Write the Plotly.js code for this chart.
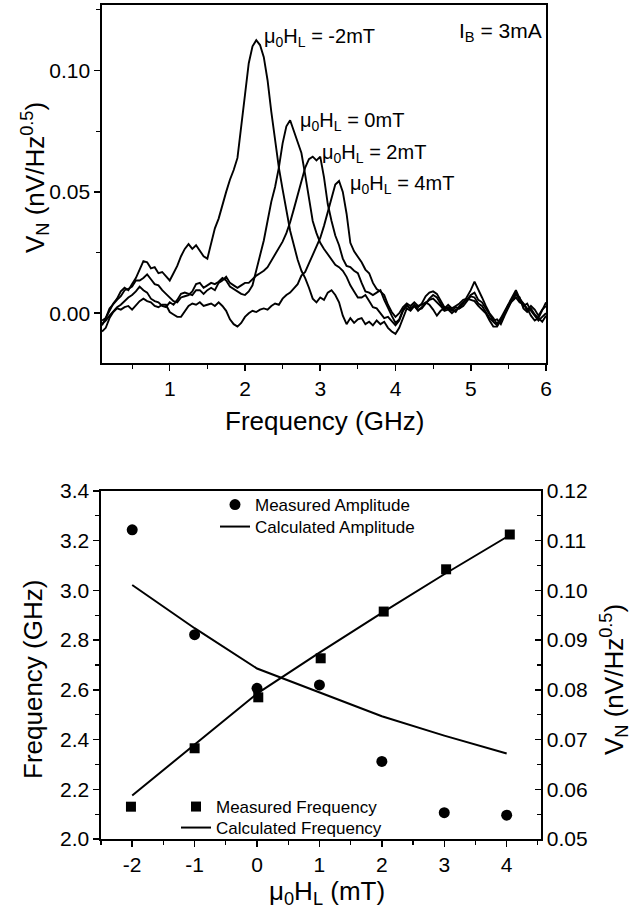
<!DOCTYPE html>
<html>
<head>
<meta charset="utf-8">
<script src="https://cdn.plot.ly/plotly-3.0.1.min.js"></script>
<style>
  html, body { margin: 0; padding: 0; background: #fff; }
  #chart { width: 636px; height: 916px; }
</style>
</head>
<body>
<div id="chart"></div>
<script>
// ---------- Top panel: noise spectra ----------
const freqGHz = [
  0.10,0.15,0.20,0.25,0.30,0.35,0.40,0.45,0.50,0.55,
  0.60,0.65,0.70,0.75,0.80,0.85,0.90,0.95,1.00,1.05,
  1.10,1.15,1.20,1.25,1.30,1.35,1.40,1.45,1.50,1.55,
  1.60,1.65,1.70,1.75,1.80,1.85,1.90,1.95,2.00,2.05,
  2.10,2.15,2.20,2.25,2.30,2.35,2.40,2.45,2.50,2.55,
  2.60,2.65,2.70,2.75,2.80,2.85,2.90,2.95,3.00,3.05,
  3.10,3.15,3.20,3.25,3.30,3.35,3.40,3.45,3.50,3.55,
  3.60,3.65,3.70,3.75,3.80,3.85,3.90,3.95,4.00,4.05,
  4.10,4.15,4.20,4.25,4.30,4.35,4.40,4.45,4.50,4.55,
  4.60,4.65,4.70,4.75,4.80,4.85,4.90,4.95,5.00,5.05,
  5.10,5.15,5.20,5.25,5.30,5.35,5.40,5.45,5.50,5.55,
  5.60,5.65,5.70,5.75,5.80,5.85,5.90,5.95,6.00
];
// mu0HL = -2 mT
const vnMinus2 = [
  -0.005,-0.002,0.001,0.004,0.006,0.009,0.0105,0.0095,0.012,0.0145,
  0.018,0.0215,0.021,0.0185,0.019,0.0165,0.017,0.015,0.0135,0.0165,
  0.0195,0.0235,0.0265,0.0285,0.0265,0.028,0.026,0.0235,0.0225,0.029,
  0.035,0.039,0.045,0.050,0.055,0.059,0.064,0.076,0.090,0.103,
  0.110,0.1125,0.1105,0.1055,0.096,0.083,0.071,0.060,0.051,0.042,
  0.034,0.028,0.022,0.0175,0.0145,0.0105,0.006,0.0045,0.0065,0.0055,
  0.0085,0.0095,0.0075,0.0045,-0.001,-0.0045,-0.002,-0.004,-0.0025,-0.002,
  -0.0045,-0.0035,-0.005,-0.003,-0.0045,-0.0035,-0.006,-0.0075,-0.0085,-0.006,
  -0.002,0.002,0.001,0.003,0.0015,0.002,0.004,0.0055,0.006,0.0045,
  0.003,0.001,0.0015,0.000,0.0015,0.002,0.003,0.005,0.007,0.0065,
  0.004,0.003,0.0005,-0.002,-0.0035,-0.005,-0.003,0.000,0.003,0.006,
  0.0085,0.005,0.003,0.004,0.001,-0.001,-0.003,-0.0015,0.000
];
// mu0HL = 0 mT
const vnZero = [
  -0.003,-0.002,0.002,0.004,0.0055,0.007,0.0095,0.010,0.011,0.0135,
  0.0135,0.0145,0.016,0.014,0.012,0.0115,0.0095,0.008,0.0065,0.005,
  0.0045,0.0065,0.007,0.0075,0.009,0.012,0.0125,0.0105,0.0115,0.0125,
  0.012,0.013,0.0145,0.0135,0.011,0.010,0.009,0.008,0.0075,0.009,
  0.0115,0.018,0.024,0.030,0.038,0.046,0.052,0.060,0.070,0.077,
  0.0795,0.075,0.071,0.066,0.057,0.047,0.038,0.033,0.029,0.0265,
  0.0245,0.022,0.020,0.019,0.0175,0.015,0.0115,0.009,0.0065,0.0065,
  0.0075,0.005,0.0025,0.002,0.000,-0.002,-0.0015,-0.0035,-0.005,-0.003,
  0.001,0.003,0.002,0.0035,0.0025,0.004,0.007,0.0085,0.009,0.008,
  0.0055,0.0025,0.002,0.001,0.0025,0.002,0.004,0.0065,0.0095,0.013,
  0.010,0.0065,0.003,0.000,-0.002,-0.0045,-0.002,0.001,0.0035,0.0065,
  0.0095,0.006,0.004,0.002,-0.001,-0.003,-0.002,0.001,0.0045
];
// mu0HL = 2 mT
const vnPlus2 = [
  -0.0045,-0.003,-0.001,0.001,0.0025,0.0035,0.005,0.0065,0.0075,0.009,
  0.011,0.0095,0.0085,0.006,0.005,0.0045,0.003,0.0025,0.0045,0.0035,
  0.0055,0.008,0.0085,0.008,0.0075,0.0095,0.0095,0.008,0.0095,0.0105,
  0.0095,0.0125,0.0135,0.015,0.0125,0.0115,0.0105,0.0115,0.0125,0.0125,
  0.014,0.0155,0.0165,0.0175,0.019,0.0215,0.024,0.027,0.0295,0.033,
  0.0375,0.043,0.049,0.055,0.060,0.0635,0.0645,0.063,0.0645,0.056,
  0.045,0.038,0.032,0.028,0.0225,0.0195,0.019,0.0175,0.0165,0.0125,
  0.009,0.0085,0.0075,0.0085,0.0095,0.0055,0.002,-0.001,-0.004,-0.0025,
  0.0015,0.0035,0.0015,0.003,0.001,0.0025,0.004,0.006,0.0075,0.0065,
  0.004,0.0015,0.0025,0.0015,0.0005,0.003,0.0045,0.0055,0.0075,0.0085,
  0.0055,0.0045,0.002,-0.001,-0.003,-0.0025,-0.0045,-0.001,0.002,0.0055,
  0.0075,0.0065,0.002,0.0005,0.002,-0.0005,-0.002,-0.0035,-0.001
];
// mu0HL = 4 mT
const vnPlus4 = [
  -0.0075,-0.006,-0.002,0.0005,0.002,0.0015,0.0025,0.003,0.0015,0.0035,
  0.005,0.006,0.005,0.0045,0.003,0.0025,0.0035,0.0035,0.0005,-0.0005,
  -0.0015,-0.0015,0.0005,0.003,0.004,0.0035,0.0045,0.003,0.0035,0.004,
  0.003,0.0045,0.003,0.001,-0.0025,-0.0045,-0.0055,-0.004,-0.0015,0.000,
  0.001,0.0005,0.0015,0.002,0.0015,0.003,0.004,0.0035,0.006,0.0075,
  0.0085,0.0105,0.012,0.0155,0.017,0.0205,0.024,0.027,0.031,0.036,
  0.042,0.048,0.053,0.0545,0.050,0.041,0.029,0.0255,0.0235,0.021,
  0.018,0.0165,0.0125,0.010,0.009,0.0075,0.0035,0.0005,-0.0015,0.000,
  0.0025,0.004,0.003,0.0045,0.003,0.0035,0.0045,0.0035,0.0015,-0.001,
  0.001,0.002,0.0035,0.002,0.003,0.004,0.0055,0.006,0.0055,0.005,
  0.003,0.0015,0.000,-0.003,-0.0055,-0.0055,-0.003,0.000,0.0035,0.005,
  0.0065,0.0045,0.004,0.001,0.003,0.0015,-0.001,0.0015,0.003
];
const curveLabels = [
  "μ<sub>0</sub>H<sub>L</sub> = -2mT",
  "μ<sub>0</sub>H<sub>L</sub> = 0mT",
  "μ<sub>0</sub>H<sub>L</sub> = 2mT",
  "μ<sub>0</sub>H<sub>L</sub> = 4mT"
];
const biasLabel = "I<sub>B</sub> = 3mA";

// ---------- Bottom panel: field dependence ----------
const fieldAmp = [-2, -1, 0, 1, 2, 3, 4];
const measAmplitude = [0.1122, 0.0911, 0.0803, 0.0810, 0.0656, 0.0553, 0.0548];
const calcAmplitude = [0.1011, 0.0924, 0.0843, 0.0795, 0.0747, 0.0708, 0.0672];
const fieldFreq = [-2.02, -1.0, 0.02, 1.02, 2.03, 3.03, 4.05];
const measFrequency = [2.13, 2.365, 2.57, 2.727, 2.915, 3.085, 3.225];
const fieldCalc = [-2, -1, 0, 1, 2, 3, 4];
const calcFrequency = [2.175, 2.38, 2.585, 2.75, 2.91, 3.065, 3.215];
const fieldTicks = [-2, -1, 0, 1, 2, 3, 4];
const fieldTickText = ["-2", "-1", "0", "1", "2", "3", "4"];

const FONT = '"Liberation Sans", Arial, Helvetica, sans-serif';
const W = 636, H = 916;
const px = v => v / W;
const py = v => 1 - v / H;

const lineStyle = {color: 'black', width: 1.9};
const traces = [
  {x: freqGHz, y: vnMinus2, xaxis: 'x', yaxis: 'y', mode: 'lines', line: lineStyle, showlegend: false, name: '-2mT'},
  {x: freqGHz, y: vnZero,   xaxis: 'x', yaxis: 'y', mode: 'lines', line: lineStyle, showlegend: false, name: '0mT'},
  {x: freqGHz, y: vnPlus2,  xaxis: 'x', yaxis: 'y', mode: 'lines', line: lineStyle, showlegend: false, name: '2mT'},
  {x: freqGHz, y: vnPlus4,  xaxis: 'x', yaxis: 'y', mode: 'lines', line: lineStyle, showlegend: false, name: '4mT'},

  {x: fieldAmp, y: measAmplitude, xaxis: 'x2', yaxis: 'y3', mode: 'markers', name: 'Measured Amplitude',
   marker: {symbol: 'circle', size: 11, color: 'black'}, legend: 'legend'},
  {x: fieldCalc, y: calcAmplitude, xaxis: 'x2', yaxis: 'y3', mode: 'lines', name: 'Calculated Amplitude',
   line: {color: 'black', width: 2}, legend: 'legend2'},
  {x: fieldFreq, y: measFrequency, xaxis: 'x2', yaxis: 'y2', mode: 'markers', name: 'Measured Frequency',
   marker: {symbol: 'square', size: 10, color: 'black'}, legend: 'legend3'},
  {x: fieldCalc, y: calcFrequency, xaxis: 'x2', yaxis: 'y2', mode: 'lines', name: 'Calculated Frequency',
   line: {color: 'black', width: 2}, legend: 'legend4'}
];

const axBase = {
  showline: true, linecolor: 'black', linewidth: 1.6,
  ticks: 'outside', ticklen: 6, tickwidth: 1.5, tickcolor: 'black',
  showgrid: false, zeroline: false,
  tickfont: {family: FONT, size: 21, color: 'black'}
};
const minorBase = {ticks: 'outside', ticklen: 4, tickwidth: 1.2, tickcolor: 'black', showgrid: false};

function legendAt(xPx, yPx) {
  return {
    x: px(xPx), xanchor: 'left', y: py(yPx), yanchor: 'middle',
    bgcolor: 'rgba(0,0,0,0)', borderwidth: 0,
    font: {family: FONT, size: 17, color: 'black'}, tracegroupgap: 0
  };
}

const layout = {
  width: W, height: H,
  margin: {l: 0, r: 0, t: 0, b: 0},
  paper_bgcolor: 'white', plot_bgcolor: 'white',
  font: {family: FONT, size: 20, color: 'black'},
  showlegend: true,
  xaxis: Object.assign({}, axBase, {
    domain: [px(102), px(546)], anchor: 'y', range: [0.1, 6.0],
    tickmode: 'linear', tick0: 0, dtick: 1, mirror: true,
    minor: Object.assign({}, minorBase, {tickmode: 'linear', tick0: 0, dtick: 0.5})
  }),
  yaxis: Object.assign({}, axBase, {
    domain: [py(363), py(5)], anchor: 'x', range: [-0.0205, 0.127],
    tickmode: 'linear', tick0: 0, dtick: 0.05, tickformat: '.2f', mirror: true,
    minor: Object.assign({}, minorBase, {tickmode: 'linear', tick0: 0, dtick: 0.025})
  }),
  xaxis2: Object.assign({}, axBase, {
    domain: [px(101), px(541)], anchor: 'y2', range: [-2.5, 4.55],
    tickmode: 'array', tickvals: fieldTicks, ticktext: fieldTickText, mirror: true,
    minor: Object.assign({}, minorBase, {tickmode: 'linear', tick0: 0, dtick: 0.5})
  }),
  yaxis2: Object.assign({}, axBase, {
    domain: [py(839), py(491)], anchor: 'x2', range: [2.0, 3.4],
    tickmode: 'linear', tick0: 2, dtick: 0.2, tickformat: '.1f',
    minor: Object.assign({}, minorBase, {tickmode: 'linear', tick0: 2, dtick: 0.1})
  }),
  yaxis3: Object.assign({}, axBase, {
    overlaying: 'y2', side: 'right', anchor: 'x2', range: [0.05, 0.12],
    tickmode: 'linear', tick0: 0.05, dtick: 0.01, tickformat: '.2f', ticks: 'inside',
    minor: Object.assign({}, minorBase, {ticks: 'inside', tickmode: 'linear', tick0: 0.05, dtick: 0.005})
  }),
  legend: legendAt(215, 505),
  legend2: legendAt(215, 527),
  legend3: legendAt(176, 807),
  legend4: legendAt(176, 828),
  annotations: [
    {xref: 'x', yref: 'y', x: 2.22, y: 0.1135, text: curveLabels[0], showarrow: false, xanchor: 'left', yanchor: 'middle', font: {family: FONT, size: 20, color: 'black'}},
    {xref: 'x', yref: 'y', x: 2.71, y: 0.0792, text: curveLabels[1], showarrow: false, xanchor: 'left', yanchor: 'middle', font: {family: FONT, size: 20, color: 'black'}},
    {xref: 'x', yref: 'y', x: 3.00, y: 0.0660, text: curveLabels[2], showarrow: false, xanchor: 'left', yanchor: 'middle', font: {family: FONT, size: 20, color: 'black'}},
    {xref: 'x', yref: 'y', x: 3.37, y: 0.0529, text: curveLabels[3], showarrow: false, xanchor: 'left', yanchor: 'middle', font: {family: FONT, size: 20, color: 'black'}},
    {xref: 'x', yref: 'y', x: 5.97, y: 0.1160, text: biasLabel, showarrow: false, xanchor: 'right', yanchor: 'middle', font: {family: FONT, size: 21, color: 'black'}},
    // axis titles
    {xref: 'paper', yref: 'paper', x: px(324), y: py(421), text: 'Frequency (GHz)', showarrow: false, xanchor: 'center', yanchor: 'middle', font: {family: FONT, size: 26, color: 'black'}},
    {xref: 'paper', yref: 'paper', x: px(35), y: py(178), text: 'V<sub>N</sub> (nV/Hz<sup>0.5</sup>)', textangle: -90, showarrow: false, xanchor: 'center', yanchor: 'middle', font: {family: FONT, size: 26, color: 'black'}},
    {xref: 'paper', yref: 'paper', x: px(33), y: py(680), text: 'Frequency (GHz)', textangle: -90, showarrow: false, xanchor: 'center', yanchor: 'middle', font: {family: FONT, size: 26, color: 'black'}},
    {xref: 'paper', yref: 'paper', x: px(614), y: py(680), text: 'V<sub>N</sub> (nV/Hz<sup>0.5</sup>)', textangle: -90, showarrow: false, xanchor: 'center', yanchor: 'middle', font: {family: FONT, size: 26, color: 'black'}},
    {xref: 'paper', yref: 'paper', x: px(327), y: py(892), text: 'μ<sub>0</sub>H<sub>L</sub> (mT)', showarrow: false, xanchor: 'center', yanchor: 'middle', font: {family: FONT, size: 26, color: 'black'}}
  ]
};

Plotly.newPlot('chart', traces, layout, {staticPlot: true, displayModeBar: false});
</script>
</body>
</html>
